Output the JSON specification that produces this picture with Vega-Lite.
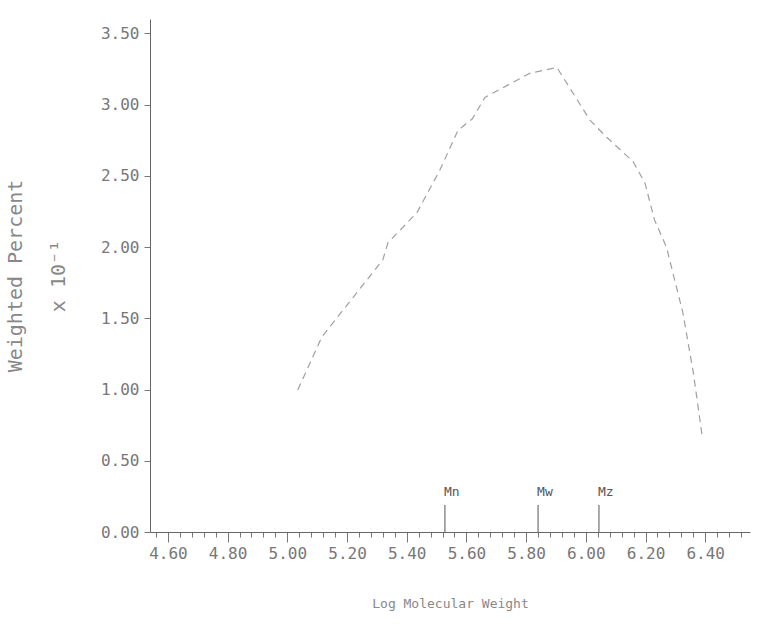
{
  "$schema": "https://vega.github.io/schema/vega-lite/v6.json",
  "width": 600,
  "height": 513,
  "autosize": {"type": "none"},
  "padding": {"left": 150, "top": 19, "right": 12, "bottom": 92},
  "background": "white",
  "config": {
    "view": {"stroke": null},
    "axis": {"grid": false, "domainColor": "#666", "tickColor": "#777", "labelColor": "#777", "titleColor": "#888", "labelFont": "DejaVu Sans Mono", "titleFont": "DejaVu Sans Mono", "titleFontWeight": "normal"}
  },
  "datasets": {
    "curve": [
      {"logmw": 5.035, "wp": 0.997},
      {"logmw": 5.116, "wp": 1.37},
      {"logmw": 5.32, "wp": 1.91},
      {"logmw": 5.337, "wp": 2.03},
      {"logmw": 5.434, "wp": 2.24},
      {"logmw": 5.511, "wp": 2.54},
      {"logmw": 5.572, "wp": 2.82},
      {"logmw": 5.62, "wp": 2.9},
      {"logmw": 5.662, "wp": 3.05},
      {"logmw": 5.813, "wp": 3.22},
      {"logmw": 5.903, "wp": 3.26},
      {"logmw": 6.014, "wp": 2.89},
      {"logmw": 6.07, "wp": 2.77},
      {"logmw": 6.158, "wp": 2.6},
      {"logmw": 6.198, "wp": 2.45},
      {"logmw": 6.23, "wp": 2.19},
      {"logmw": 6.27, "wp": 2.0},
      {"logmw": 6.325, "wp": 1.54},
      {"logmw": 6.36, "wp": 1.12},
      {"logmw": 6.39, "wp": 0.67}
    ],
    "moments": [
      {"name": "Mn", "logmw": 5.528, "base": 0, "top": 0.19, "lab": 0.23},
      {"name": "Mw", "logmw": 5.84, "base": 0, "top": 0.19, "lab": 0.23},
      {"name": "Mz", "logmw": 6.044, "base": 0, "top": 0.19, "lab": 0.23}
    ]
  },
  "layer": [
    {
      "data": {"name": "curve"},
      "mark": {"type": "line", "color": "#a0a0a0", "strokeWidth": 1.2, "strokeDash": [7, 5]},
      "encoding": {
        "x": {
          "field": "logmw", "type": "quantitative",
          "scale": {"domain": [4.54, 6.55], "nice": false, "zero": false},
          "axis": {
            "title": "Log Molecular Weight",
            "titleFontSize": 13,
            "titlePadding": 36,
            "labelFontSize": 16,
            "labelPadding": 3,
            "labelOverlap": false,
            "labelFlush": false,
            "tickCount": 80,
            "values": [4.56,4.6,4.64,4.68,4.72,4.76,4.8,4.84,4.88,4.92,4.96,5,5.04,5.08,5.12,5.16,5.2,5.24,5.28,5.32,5.36,5.4,5.44,5.48,5.52,5.56,5.6,5.64,5.68,5.72,5.76,5.8,5.84,5.88,5.92,5.96,6,6.04,6.08,6.12,6.16,6.2,6.24,6.28,6.32,6.36,6.4,6.44,6.48,6.52],
            "labelExpr": "abs(datum.value*5 - round(datum.value*5)) < 0.001 ? format(datum.value, '.2f') : ''",
            "tickSize": {"condition": {"test": "abs(datum.value*5 - round(datum.value*5)) < 0.001", "value": 10}, "value": 5}
          }
        },
        "y": {
          "field": "wp", "type": "quantitative",
          "scale": {"domain": [0, 3.6], "nice": false},
          "axis": {
            "title": ["Weighted Percent", "x 10⁻¹"],
            "titleFontSize": 20,
            "titleLineHeight": 43,
            "titlePadding": 32,
            "labelFontSize": 16,
            "labelPadding": 5,
            "tickSize": 6,
            "tickCount": 20,
            "values": [0, 0.5, 1, 1.5, 2, 2.5, 3, 3.5],
            "format": ".2f"
          }
        }
      }
    },
    {
      "data": {"name": "moments"},
      "mark": {"type": "rule", "color": "#555", "strokeWidth": 1},
      "encoding": {
        "x": {"field": "logmw", "type": "quantitative"},
        "y": {"field": "base", "type": "quantitative"},
        "y2": {"field": "top"}
      }
    },
    {
      "data": {"name": "moments"},
      "mark": {"type": "text", "align": "left", "baseline": "bottom", "font": "DejaVu Sans Mono", "fontSize": 13, "color": "#555", "dx": -1},
      "encoding": {
        "x": {"field": "logmw", "type": "quantitative"},
        "y": {"field": "lab", "type": "quantitative"},
        "text": {"field": "name"}
      }
    }
  ]
}
